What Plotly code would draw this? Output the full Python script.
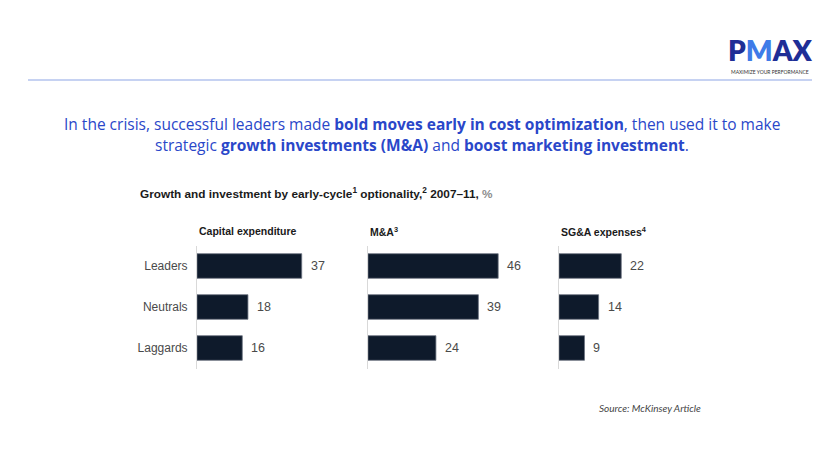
import plotly.graph_objects as go

categories = ["Leaders", "Neutrals", "Laggards"]
panel_titles = ["Capital expenditure", "M&A<sup>3</sup>", "SG&A expenses<sup>4</sup>"]
capex = [37, 18, 16]
mna = [46, 39, 24]
sga = [22, 14, 9]
series = [capex, mna, sga]

OFF = 8  # page body margin
W, H = 840 - 2 * OFF, 460 - 2 * OFF
BAR = "#0e1a2b"
GRAY = "#4a4a4a"
BLUE = "#2a47c9"

def px(x):
    return (x - OFF) / W

def py(y):
    return 1 - (y - OFF) / H

fig = go.Figure()

panel_left = [197, 368, 559]
panel_width = 141.5
ydom = [py(368.5), py(245.5)]

annotations = []
for i, vals in enumerate(series):
    xa = "x" if i == 0 else f"x{i+1}"
    ya = "y" if i == 0 else f"y{i+1}"
    fig.add_trace(go.Bar(
        x=vals, y=categories, orientation="h",
        marker=dict(color=BAR, line=dict(color="#6b7280", width=0.8)),
        width=0.6, xaxis=xa, yaxis=ya, showlegend=False, hoverinfo="skip",
    ))
    for c, v in zip(categories, vals):
        annotations.append(dict(
            x=v, y=c, xref=xa, yref=ya, text=str(v), showarrow=False,
            xanchor="left", yanchor="middle", xshift=7,
            font=dict(family="Liberation Sans, Arial", size=12.5, color=GRAY),
        ))
    annotations.append(dict(
        x=px(panel_left[i]), y=py(231), xref="paper", yref="paper",
        text=panel_titles[i], showarrow=False, xanchor="left", yanchor="middle",
        font=dict(family="Liberation Sans, Arial", size=10.5, color="#1a1a1a", weight=600),
    ))
    d0 = px(panel_left[i])
    d1 = px(panel_left[i] + panel_width)
    fig.layout[f"xaxis{'' if i == 0 else i+1}"] = dict(
        domain=[d0, d1], range=[0, 50], visible=False, fixedrange=True,
        anchor=ya,
    )
    fig.layout[f"yaxis{'' if i == 0 else i+1}"] = dict(
        domain=ydom, range=[2.5, -0.5], type="category",
        categoryorder="array", categoryarray=categories,
        showline=True, linecolor="#d9d9d9", linewidth=1,
        showgrid=False, zeroline=False, ticks="",
        showticklabels=(i == 0), ticklabelstandoff=6,
        tickfont=dict(family="Liberation Sans, Arial", size=12, color=GRAY),
        anchor=xa, fixedrange=True,
    )

# Headline
annotations.append(dict(
    x=px(422), y=py(124), xref="paper", yref="paper", showarrow=False,
    xanchor="center", yanchor="middle",
    text=("In the crisis, successful leaders made <b>bold moves early in cost optimization</b>, then used it to make"),
    font=dict(family="Open Sans", size=15.5, color=BLUE),
))
annotations.append(dict(
    x=px(422), y=py(145), xref="paper", yref="paper", showarrow=False,
    xanchor="center", yanchor="middle",
    text=("strategic <b>growth investments (M&A)</b> and <b>boost marketing investment</b>."),
    font=dict(family="Open Sans", size=15.5, color=BLUE),
))

# Chart subtitle
annotations.append(dict(
    x=px(138), y=py(194), xref="paper", yref="paper", showarrow=False,
    xanchor="left", yanchor="middle",
    text="Growth and investment by early-cycle<sup>1</sup> optionality,<sup>2</sup> 2007–11, <span style='color:#8c8c8c'>%</span>",
    font=dict(family="Liberation Sans, Arial", size=11.8, color="#1a1a1a", weight=600),
))

# Source
annotations.append(dict(
    x=px(703), y=py(408), xref="paper", yref="paper", showarrow=False,
    xanchor="right", yanchor="middle",
    text="<i>Source: McKinsey Article</i>",
    font=dict(family="Lato", size=10, color="#444444"),
))

# Logo
annotations.append(dict(
    x=px(770), y=py(50), xref="paper", yref="paper", showarrow=False,
    xanchor="center", yanchor="middle",
    text="P<span style='color:#3f7be8'>M</span>AX",
    font=dict(family="Lato", size=28, color="#1f2e96", weight=800),
))
annotations.append(dict(
    x=px(770), y=py(71.5), xref="paper", yref="paper", showarrow=False,
    xanchor="center", yanchor="middle",
    text="MAXIMIZE YOUR PERFORMANCE",
    font=dict(family="Lato", size=5, color="#333333"),
))

shapes = [dict(
    type="line", xref="paper", yref="paper",
    x0=px(28), x1=px(812), y0=py(80), y1=py(80),
    line=dict(color="#8ea6e6", width=1.2),
)]

fig.update_layout(
    width=W, height=H, margin=dict(l=0, r=0, t=0, b=0),
    paper_bgcolor="white", plot_bgcolor="white",
    annotations=annotations, shapes=shapes, bargap=0.4,
)

fig.write_html("out.html")
